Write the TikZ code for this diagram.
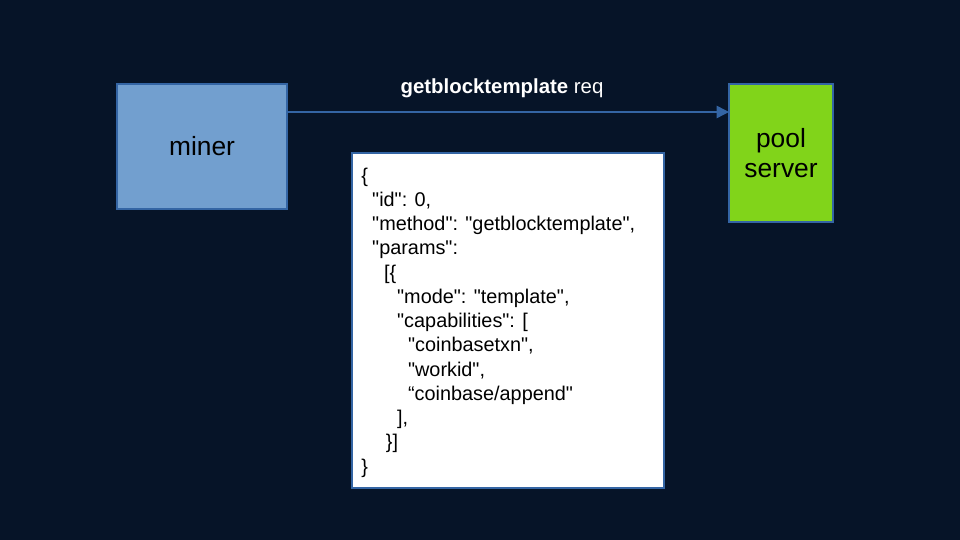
\documentclass[tikz,border=0pt]{standalone}
\usepackage{fontspec}
\setmainfont{Liberation Sans}[Ligatures=TeXOff]
\usetikzlibrary{positioning,arrows.meta}
\definecolor{bgnavy}{HTML}{061428}
\definecolor{minerblue}{HTML}{729FCF}
\definecolor{edgeblue}{HTML}{3465A4}
\definecolor{poolgreen}{HTML}{81D41A}

\begin{document}
\begin{tikzpicture}[
  x=0.02cm, y=-0.02cm,
  box/.style={draw=edgeblue, line width=0.6pt, inner sep=0pt, font=\fontsize{15}{17.5}\selectfont},
  codebox/.style={draw=edgeblue, fill=white, line width=0.6pt, inner sep=0pt, minimum width=312*0.02cm, minimum height=335*0.02cm},
  req/.style={-{Triangle[length=7pt,width=7pt]}, draw=edgeblue, line width=0.8pt}
]
\fill[bgnavy] (0,0) rectangle (960,540);
\useasboundingbox (0,0) rectangle (960,540);

\node[box, fill=minerblue, minimum width=170*0.02cm, minimum height=125*0.02cm] (miner) at (202,146.5) {miner};
\node[box, fill=poolgreen, minimum width=104*0.02cm, minimum height=138*0.02cm, align=center] (pool) at (781,153) {pool\\server};
\coordinate (reqout) at (287,112);
\coordinate (reqin) at (729,112);
\draw[req] (reqout) -- (reqin);
\node[text=white, font=\fontsize{11.6}{14}\selectfont] (reqlabel) at (502,88) {\textbf{getblocktemplate} req};

\node[codebox] (payload) at (508,320.5) {};
\node[anchor=north west, align=left, inner sep=0pt, font=\fontsize{11.3}{13.8}\selectfont] (json) at (361,167.5) {%
{\{}\\
\hspace*{6.2pt}"id": 0,\\
\hspace*{6.2pt}"method": "getblocktemplate",\\
\hspace*{6.2pt}"params":\\
\hspace*{13pt}[\{\\
\hspace*{20.4pt}"mode": "template",\\
\hspace*{20.4pt}"capabilities": [\\
\hspace*{26.6pt}"coinbasetxn",\\
\hspace*{26.6pt}"workid",\\
\hspace*{26.6pt}“coinbase/append"\\
\hspace*{20.4pt}],\\
\hspace*{14pt}\}]\\
\}};
\end{tikzpicture}
\end{document}
